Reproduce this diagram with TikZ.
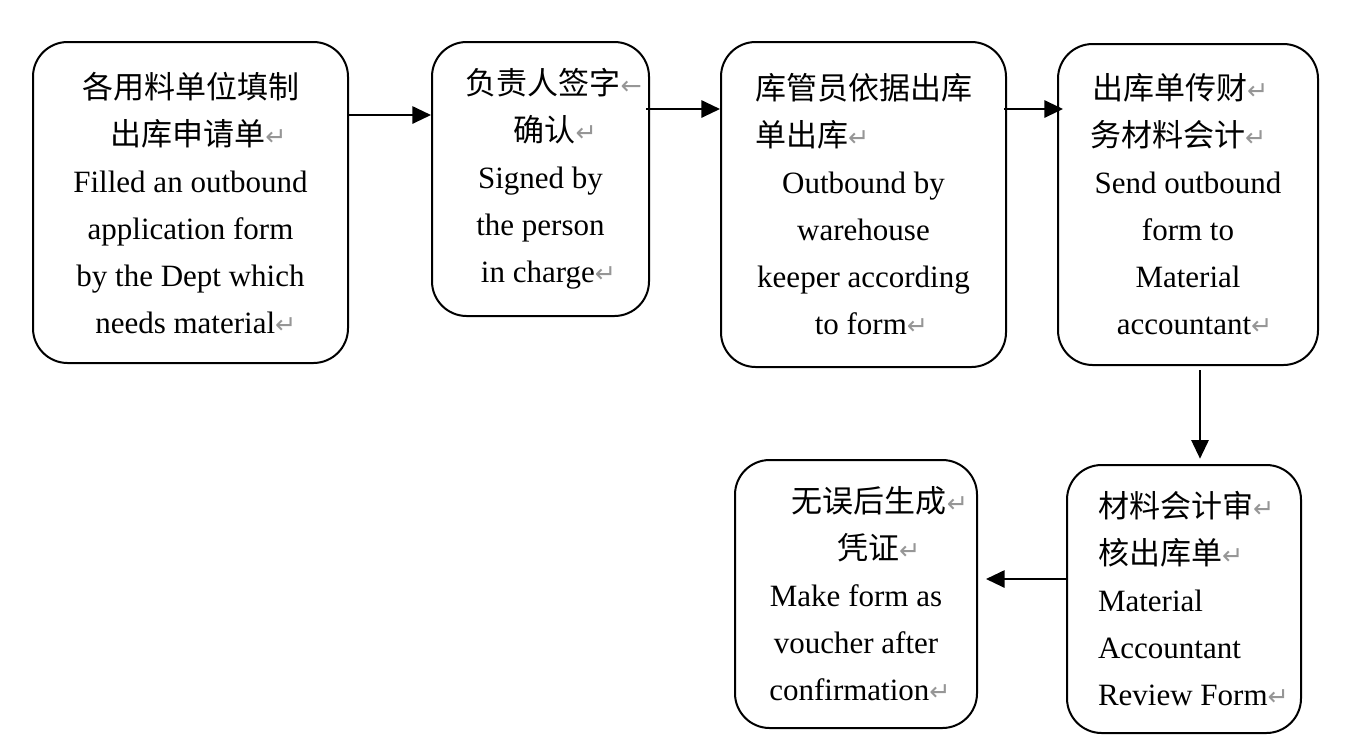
\documentclass[tikz,border=0pt]{standalone}
\usepackage{fontspec}
\setmainfont{Liberation Serif}
\newfontfamily\cjk{Noto Sans CJK SC}
\newfontfamily\markfont{DejaVu Sans}
\usetikzlibrary{arrows.meta}
\definecolor{markgray}{RGB}{150,150,150}
\newcommand\pmark{{\markfont\color{markgray}\fontsize{19}{19}\selectfont ↵}}
\newcommand\lmark{{\markfont\color{markgray}\fontsize{19}{19}\selectfont ←}}
\begin{document}
\begin{tikzpicture}[x=0.75pt,y=-0.75pt,
  box/.style={draw, line width=1.5pt, rounded corners=26pt, inner sep=0pt,
    align=center, font=\fontsize{23.25}{35.25}\selectfont},
  arr/.style={line width=1.5pt, -{Triangle[length=14pt,width=13pt]}}]
\useasboundingbox (0,0) rectangle (1353,744);

\node[box, minimum width=236.25pt, minimum height=240.75pt] (b1) at (190.5,202.5)
  {{\cjk 各用料单位填制}\\
   \hspace*{12pt}{\cjk 出库申请单}\pmark\\
   Filled an outbound\\
   application form\\
   by the Dept which\\
   \hspace*{8pt}needs material\pmark};

\node[box, minimum width=162.75pt, minimum height=205.5pt] (b2) at (540.5,179)
  {\hspace*{20pt}{\cjk 负责人签字}\lmark\\
   \hspace*{22pt}{\cjk 确认}\pmark\\
   Signed by\\
   the person\\
   \hspace*{12pt}in charge\pmark};

\node[box, minimum width=213.75pt, minimum height=243.75pt] (b3) at (863.5,204.5)
  {{\cjk 库管员依据出库}\\
   \makebox[162.75pt][l]{{\cjk 单出库}\pmark}\\
   Outbound by\\
   warehouse\\
   keeper according\\
   \hspace*{12pt}to form\pmark};

\node[box, minimum width=195pt, minimum height=240.75pt] (b4) at (1188,204.5)
  {\makebox[144pt][l]{{\cjk 出库单传财}\pmark}\\
   \makebox[147pt][l]{{\cjk 务材料会计}\pmark}\\
   Send outbound\\
   form to\\
   Material\\
   \hspace*{10pt}accountant\pmark};

\node[box, minimum width=175.5pt, minimum height=201pt] (b5) at (1184,599)
  {\makebox[129pt][l]{{\cjk 材料会计审}\pmark}\\
   \makebox[129pt][l]{{\cjk 核出库单}\pmark}\\
   \makebox[129pt][l]{Material}\\
   \makebox[129pt][l]{Accountant}\\
   \makebox[129pt][l]{Review Form\pmark}};

\node[box, minimum width=181.5pt, minimum height=201pt] (b6) at (856,594)
  {\hspace*{36pt}{\cjk 无误后生成}\pmark\\
   \hspace*{34pt}{\cjk 凭证}\pmark\\
   Make form as\\
   voucher after\\
   \hspace*{6pt}confirmation\pmark};

\coordinate (r1) at (0,115);
\coordinate (r2) at (0,109);
\coordinate (c1) at (1200,0);
\coordinate (r3) at (0,579);

\draw[arr] (b1.east |- r1) -- (b2.west |- r1);
\draw[arr] ([xshift=-3pt]b2.east |- r2) -- (b3.west |- r2);
\draw[arr] ([xshift=-2pt]b3.east |- r2) -- ([xshift=4.5pt]b4.west |- r2);
\draw[arr] ([yshift=-3pt]b4.south -| c1) -- ([yshift=4pt]b5.north -| c1);
\draw[arr] (b5.west |- r3) -- ([xshift=6pt]b6.east |- r3);
\end{tikzpicture}
\end{document}
